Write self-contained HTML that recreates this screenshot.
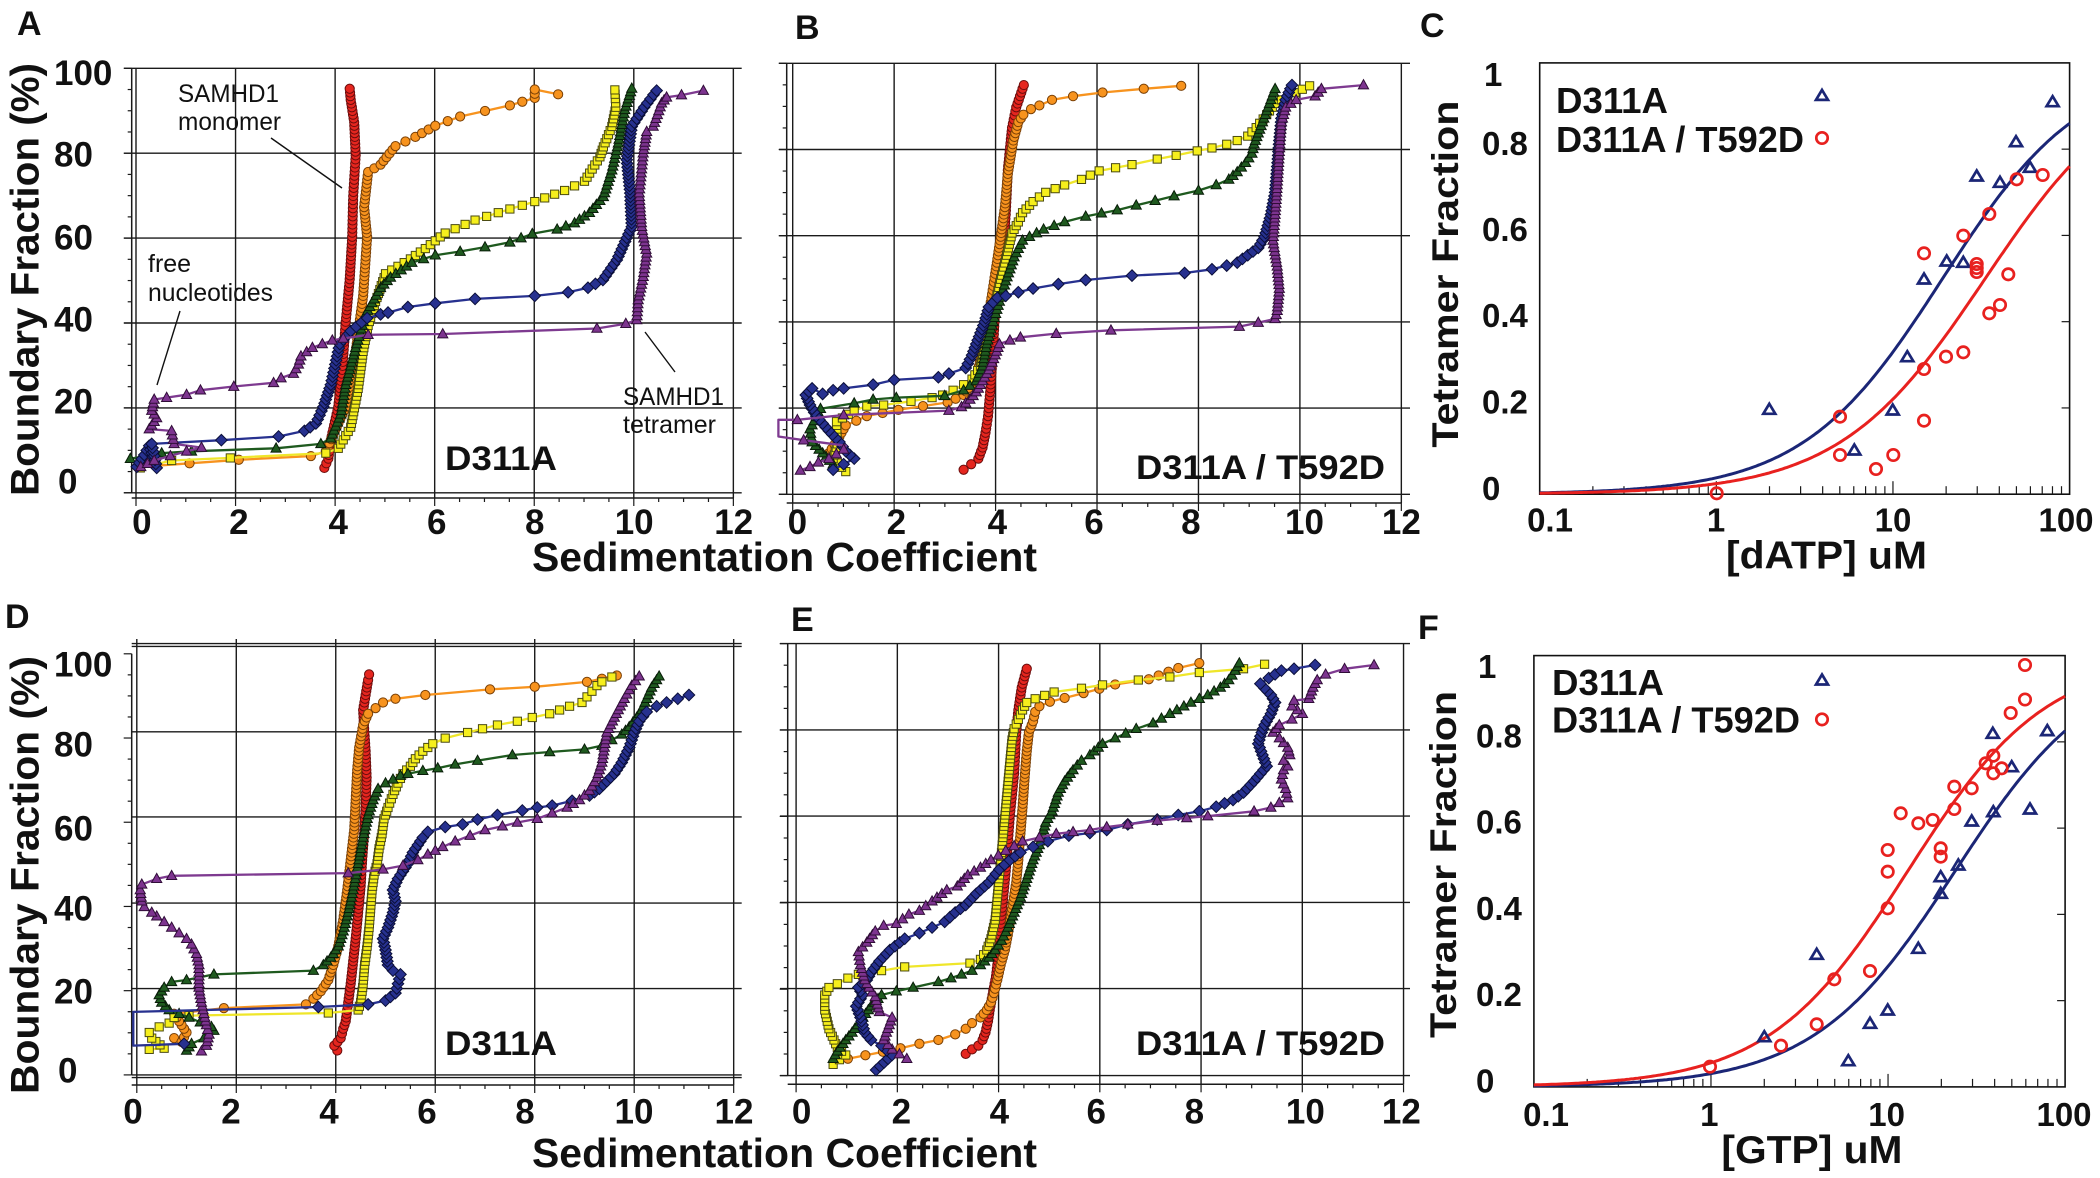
<!DOCTYPE html>
<html><head><meta charset="utf-8">
<style>
html,body{margin:0;padding:0;background:#fff;}
svg{display:block;}
text{font-family:"Liberation Sans",Arial,sans-serif;fill:#111;}
.b{font-weight:bold;}
</style></head><body>
<svg id="s" xmlns="http://www.w3.org/2000/svg" width="2100" height="1178" viewBox="0 0 2100 1178">
<rect width="2100" height="1178" fill="#fff"/>
<g id="g"></g>
<g id="d"></g>
<g id="t">
<!-- panel letters -->
<text class="b" x="17" y="35" font-size="34">A</text>
<text class="b" x="795" y="39" font-size="34">B</text>
<text class="b" x="1420" y="37" font-size="34">C</text>
<text class="b" x="5" y="628" font-size="34">D</text>
<text class="b" x="791" y="631" font-size="34">E</text>
<text class="b" x="1418" y="639" font-size="34">F</text>

<!-- y titles -->
<text class="b" font-size="40" transform="translate(38.5,496) rotate(-90)" x="0" y="0" textLength="433" lengthAdjust="spacingAndGlyphs">Boundary Fraction (%)</text>
<text class="b" font-size="40" transform="translate(38.5,1094) rotate(-90)" x="0" y="0" textLength="438" lengthAdjust="spacingAndGlyphs">Boundary Fraction (%)</text>
<text class="b" font-size="37" transform="translate(1458,447.6) rotate(-90)" x="0" y="0" textLength="347" lengthAdjust="spacingAndGlyphs">Tetramer Fraction</text>
<text class="b" font-size="37" transform="translate(1455.8,1038) rotate(-90)" x="0" y="0" textLength="347" lengthAdjust="spacingAndGlyphs">Tetramer Fraction</text>

<!-- x titles -->
<text class="b" font-size="41" x="532" y="571" textLength="505" lengthAdjust="spacingAndGlyphs">Sedimentation Coefficient</text>
<text class="b" font-size="41" x="532" y="1167" textLength="505" lengthAdjust="spacingAndGlyphs">Sedimentation Coefficient</text>
<text class="b" font-size="39" x="1726" y="568.5" textLength="201" lengthAdjust="spacingAndGlyphs">[dATP] uM</text>
<text class="b" font-size="39" x="1721.4" y="1163" textLength="181" lengthAdjust="spacingAndGlyphs">[GTP] uM</text>

<!-- A/D y tick labels -->
<g font-size="35" font-weight="bold">
<text x="54" y="85">100</text><text x="54" y="166.5">80</text><text x="54" y="249.5">60</text>
<text x="54" y="331.5">40</text><text x="54" y="413.5">20</text><text x="58" y="493.5">0</text>
<text x="54" y="676.5">100</text><text x="54" y="756.5">80</text><text x="54" y="840.5">60</text>
<text x="54" y="920.5">40</text><text x="54" y="1003.5">20</text><text x="58" y="1082.5">0</text>
</g>
<g font-size="35" font-weight="bold" text-anchor="middle">
<text x="141.8" y="534">0</text><text x="238.8" y="534">2</text><text x="338.2" y="534">4</text><text x="436.7" y="534">6</text><text x="534.7" y="534">8</text><text x="634.2" y="534">10</text><text x="733.7" y="534">12</text>
<text x="797.4" y="534">0</text><text x="896.3" y="534">2</text><text x="997.3" y="534">4</text><text x="1094" y="534">6</text><text x="1190.9" y="534">8</text><text x="1304.5" y="534">10</text><text x="1401.4" y="534">12</text>
<text x="133" y="1123.5">0</text><text x="231" y="1123.5">2</text><text x="329" y="1123.5">4</text><text x="427" y="1123.5">6</text><text x="525" y="1123.5">8</text><text x="634" y="1123.5">10</text><text x="734" y="1123.5">12</text>
<text x="801.6" y="1123.5">0</text><text x="901.3" y="1123.5">2</text><text x="999.4" y="1123.5">4</text><text x="1096.2" y="1123.5">6</text><text x="1194.3" y="1123.5">8</text><text x="1305.4" y="1123.5">10</text><text x="1401.4" y="1123.5">12</text>
</g>
<!-- C/F tick labels -->
<g font-size="33" font-weight="bold">
<text x="1484" y="86">1</text><text x="1482" y="155">0.8</text><text x="1482" y="241">0.6</text><text x="1482" y="327">0.4</text><text x="1482" y="413.5">0.2</text><text x="1482" y="500">0</text>
<text x="1478" y="678">1</text><text x="1476" y="747.5">0.8</text><text x="1476" y="833.6">0.6</text><text x="1476" y="920">0.4</text><text x="1476" y="1006">0.2</text><text x="1476" y="1092.5">0</text>
</g>
<g font-size="33" font-weight="bold" text-anchor="middle">
<text x="1550" y="531.7">0.1</text><text x="1716" y="531.7">1</text><text x="1893" y="531.7">10</text><text x="2066" y="531.7">100</text>
<text x="1546" y="1126">0.1</text><text x="1709.3" y="1126">1</text><text x="1886.6" y="1126">10</text><text x="2064" y="1126">100</text>
</g>
<!-- legends -->
<g font-size="36" font-weight="bold">
<text x="1556" y="113" textLength="112" lengthAdjust="spacingAndGlyphs">D311A</text>
<text x="1556" y="152" textLength="248" lengthAdjust="spacingAndGlyphs">D311A / T592D</text>
<text x="1552" y="695" textLength="112" lengthAdjust="spacingAndGlyphs">D311A</text>
<text x="1552" y="732.5" textLength="248" lengthAdjust="spacingAndGlyphs">D311A / T592D</text>
</g>
<!-- panel tags -->
<g font-size="34" font-weight="bold">
<text x="445" y="470" textLength="112" lengthAdjust="spacingAndGlyphs">D311A</text>
<text x="445" y="1055" textLength="112" lengthAdjust="spacingAndGlyphs">D311A</text>
<text x="1136" y="479" textLength="249" lengthAdjust="spacingAndGlyphs">D311A / T592D</text>
<text x="1136" y="1055" textLength="249" lengthAdjust="spacingAndGlyphs">D311A / T592D</text>
</g>
<!-- annotations -->
<g font-size="25">
<text x="178" y="102" textLength="101" lengthAdjust="spacingAndGlyphs">SAMHD1</text>
<text x="178" y="130" textLength="103" lengthAdjust="spacingAndGlyphs">monomer</text>
<text x="148" y="272">free</text>
<text x="148" y="301" textLength="125" lengthAdjust="spacingAndGlyphs">nucleotides</text>
<text x="623" y="405" textLength="101" lengthAdjust="spacingAndGlyphs">SAMHD1</text>
<text x="623" y="433" textLength="93" lengthAdjust="spacingAndGlyphs">tetramer</text>
</g>
<g stroke="#111" stroke-width="1.4">
<line x1="271" y1="138" x2="342" y2="188"/>
<line x1="180" y1="311" x2="157" y2="385"/>
<line x1="645" y1="332" x2="675" y2="372"/>
</g>
</g>
</svg>
<script>
(function(){
var NS="http://www.w3.org/2000/svg";
var G=document.getElementById('g'), DG=document.getElementById('d');
function mk(tag,a,p){var e=document.createElementNS(NS,tag);for(var k in a)e.setAttribute(k,a[k]);p.appendChild(e);return e;}
function L(x1,y1,x2,y2,w){mk('line',{x1:x1,y1:y1,x2:x2,y2:y2,stroke:'#1a1a1a','stroke-width':w||1.3},G);}

function sedAxes(o){
  L(o.ax,o.tTop,o.ax,o.tBot,1.5);
  for(var v=0;v<=100;v+=5){var y=o.ty0-v*o.tuy;var len=(v%20==0)?8:4;L(o.ax-len,y,o.ax,y,1.2);}
  o.h.forEach(function(y){L(o.hx1,y,o.hx2,y,1.4);});
  for(var v=0;v<=12;v+=2){var x=o.x0+v*o.ux;L(x,o.vTop,x,o.vBot,1.4);}
  L(o.ax,o.xay,o.x0+12*o.ux,o.xay,1.5);
  for(var v=0;v<=12.001;v+=0.5){var x=o.x0+v*o.ux;var len=(Math.abs(v%2)<0.01)?8:4;L(x,o.xay,x,o.xay+len,1.2);}
}
sedAxes({ax:131.7,tTop:68.3,tBot:492.8,ty0:492.8,tuy:4.245,h:[68.3,153.2,238.1,323.0,407.9,492.8],hx1:124,hx2:741.7,x0:136,ux:49.78,vTop:68.3,vBot:498,xay:498});
sedAxes({ax:786.7,tTop:63.3,tBot:494.3,ty0:494.3,tuy:4.31,h:[63.3,149.5,235.7,321.9,408.1,494.3],hx1:779,hx2:1410,x0:792.7,ux:50.72,vTop:63.3,vBot:503,xay:503});
sedAxes({ax:131.7,tTop:653.8,tBot:1075,ty0:1074.9,tuy:4.211,h:[643.6,646.4,731.8,816.9,903.1,988.6,1074.9,1077.6],hx1:131.7,hx2:741.7,x0:136.8,ux:49.74,vTop:639,vBot:1085,xay:1085});
sedAxes({ax:787.7,tTop:643.6,tBot:1075.6,ty0:1075.6,tuy:4.32,h:[643.6,729.9,816.1,902.4,988.6,1075.6],hx1:780,hx2:1410,x0:796.1,ux:50.62,vTop:643.6,vBot:1084.3,xay:1084.3});

function logAxes(o){
  mk('rect',{x:o.l,y:o.t,width:o.r-o.l,height:o.b-o.t,fill:'none',stroke:'#111','stroke-width':1.6},G);
  [0.1,1,10].forEach(function(d){for(var m=1;m<=9;m++){if(m==1&&d==0.1)continue;var x=o.l+(Math.log(m*d)/Math.LN10+1)*o.dec;var len=(m==1)?13:8;L(x,o.b,x,o.b-len,1.2);}});
  [0.2,0.4,0.6,0.8].forEach(function(f){var y=o.b-f*431.3;L(o.r-8,y,o.r,y,1.2);});
}
var PC={l:1539.7,r:2069.6,t:62.9,b:494.2,dec:176.63};
var PF={l:1533.9,r:2065.1,t:655.6,b:1086.9,dec:177.07};
logAxes(PC);logAxes(PF);

function hill(o,K,n,col){
  var pts=[];
  for(var i=0;i<=240;i++){var lx=-1+3*i/240;var x=Math.pow(10,lx);var f=Math.pow(x,n)/(Math.pow(K,n)+Math.pow(x,n));pts.push((o.l+(lx+1)*o.dec).toFixed(1)+','+(o.b-f*431.3).toFixed(1));}
  mk('polyline',{points:pts.join(' '),fill:'none',stroke:col,'stroke-width':3},DG);
}
var NAVY='#1b2676', RED='#e8211f';
hill(PC,19.1,1.095,NAVY);hill(PC,33.3,1.05,RED);
hill(PF,23.9,1.086,NAVY);hill(PF,12.9,1.106,RED);

function otri(x,y){mk('polygon',{points:(x)+','+(y-5.5)+' '+(x+6)+','+(y+4.5)+' '+(x-6)+','+(y+4.5),fill:'none',stroke:NAVY,'stroke-width':2.7,'stroke-linejoin':'miter'},DG);}
function ocirc(x,y){mk('circle',{cx:x,cy:y,r:5.7,fill:'none',stroke:RED,'stroke-width':2.7},DG);}
otri(1822,95.4);ocirc(1822,138);otri(1822,680);ocirc(1822,719.4);
[[2052.6,101.7],[2016,141.7],[2030,167.3],[1976.7,176],[2000,182.3],[1946.7,261],[1963.3,262.3],[1924,279],[1907.3,356.7],[1769.3,409.3],[1892.7,410],[1854.3,450]].forEach(function(p){otri(p[0],p[1]);});
[[2042.7,175],[2016.7,179.3],[1989.3,214],[1963.3,235.7],[1924,253.3],[1976.7,264],[1976.7,268],[1976.7,272],[2008.3,274.3],[2000,305],[1989.3,313.3],[1946,356.7],[1963.3,352.3],[1924,369],[1840,416.7],[1924,420.7],[1840,455],[1893.3,455],[1876,469],[1716.7,493.3]].forEach(function(p){ocirc(p[0],p[1]);});
[[2047.3,730.6],[1992.8,733.3],[2011.7,766.7],[2030,809],[1993.3,811.7],[1971.7,821],[1958.3,865],[1940.7,876.7],[1940.7,893.3],[1918.3,948.3],[1816.7,954.3],[1887.7,1010],[1870,1023.3],[1764.3,1036.7],[1848.3,1060.7]].forEach(function(p){otri(p[0],p[1]);});
[[2025,665],[2025,699.5],[2010.7,713],[1993.3,755.7],[1985.7,763.3],[2001.7,768.3],[1993.3,773.3],[1954.3,786.7],[1971.7,788.3],[1954.3,809],[1900.7,813.3],[1932.7,820],[1918.3,823.3],[1940.7,848.3],[1940.7,856.7],[1887.7,850],[1887.7,871.7],[1887.7,908.3],[1870,971],[1834.3,979.3],[1816.7,1024.3],[1781,1045.7],[1710,1066.7]].forEach(function(p){ocirc(p[0],p[1]);});

/* sedimentation series */
var PA={ox:0,oy:0,fx:780/1568,fy:580/1568};
var PB={ox:770,oy:0,fx:660/1568,fy:580/1568};
var PD={ox:0,oy:590,fx:780/1568,fy:588/1568};
var PE={ox:770,oy:590,fx:660/1568,fy:588/1568};
var STY={
 red:{k:'c',f:'#e5261f',e:'#6a0c0c',l:'#e0281f'},
 orange:{k:'c',f:'#f7931e',e:'#7a4006',l:'#f7931e'},
 yellow:{k:'s',f:'#f6ef1c',e:'#4a4a10',l:'#efe62a'},
 green:{k:'t',f:'#1f5a1f',e:'#081c08',l:'#1f5a1f'},
 navy:{k:'d',f:'#27318f',e:'#0a0e38',l:'#27318f'},
 purple:{k:'t',f:'#7d348f',e:'#300d38',l:'#7e3a90'}
};
var STEP=10.5;
function marker(st,x,y){
  var a={fill:st.f,stroke:st.e,'stroke-width':1};
  if(st.k=='c'){a.cx=x;a.cy=y;a.r=4.6;mk('circle',a,DG);}
  else if(st.k=='s'){a.x=x-4.1;a.y=y-4.1;a.width=8.2;a.height=8.2;mk('rect',a,DG);}
  else if(st.k=='d'){a.points=x+','+(y-5.8)+' '+(x+5.8)+','+y+' '+x+','+(y+5.8)+' '+(x-5.8)+','+y;mk('polygon',a,DG);}
  else {a.points=x+','+(y-5.4)+' '+(x+5.1)+','+(y+3.8)+' '+(x-5.1)+','+(y+3.8);mk('polygon',a,DG);}
}
function series(P,name,pts){
  var st=STY[name];
  var Q=pts.map(function(p){return {x:P.ox+p[0]*P.fx,y:P.oy+p[1]*P.fy,m:!(p.length>2&&p[2]===0)};});
  mk('polyline',{points:Q.map(function(q){return q.x.toFixed(1)+','+q.y.toFixed(1);}).join(' '),fill:'none',stroke:st.l,'stroke-width':2.3,'stroke-linejoin':'round'},DG);
  var M=[];
  for(var i=0;i<Q.length;i++){
    if(Q[i].m)M.push([Q[i].x,Q[i].y]);
    if(i<Q.length-1&&Q[i].m&&Q[i+1].m){
      var dy=Math.abs(pts[i+1][1]-pts[i][1]);var n=Math.round(dy/STEP);
      for(var k=1;k<n;k++){var t=k/n;M.push([Q[i].x+(Q[i+1].x-Q[i].x)*t,Q[i].y+(Q[i+1].y-Q[i].y)*t]);}
    }
  }
  M.forEach(function(m){marker(st,m[0],m[1]);});
}
var DATA=[
[PA,{
red:[[652,1265],[660,1240],[665,1190],[680,1100],[688,1000],[695,870],[703,755],[708,640],[710,530],[715,420],[712,330],[705,270],[703,240]],
orange:[[282,1262],[480,1243],[625,1233],[655,1220],[695,1100],[715,950],[730,800],[738,640],[732,560],[740,465],[765,445],[795,395],[835,370],[875,340],[925,315],[975,300],[1025,285],[1075,265],[1075,242],[1122,255]],
yellow:[[282,1265],[345,1245],[463,1238],[655,1225],[680,1212],[705,1155],[720,1050],[730,950],[740,880],[755,815],[775,740],[800,720],[825,700],[855,672],[895,630],[955,595],[1025,565],[1075,545],[1135,515],[1175,490],[1206,424],[1213,397],[1230,342],[1238,290],[1236,243]],
green:[[262,1240],[325,1225],[385,1220],[555,1212],[645,1200],[665,1185],[685,1120],[695,1040],[715,940],[735,850],[765,778],[785,750],[828,710],[875,690],[925,680],[975,668],[1025,655],[1070,632],[1120,620],[1155,603],[1185,575],[1213,532],[1230,460],[1243,387],[1256,297],[1270,239]],
navy:[[275,1262],[290,1230],[300,1205],[315,1265],[305,1200],[445,1190],[560,1180],[612,1165],[635,1145],[650,1100],[665,1040],[683,930],[705,895],[738,860],[765,850],[780,845],[820,830],[875,820],[955,808],[1075,800],[1142,790],[1182,778],[1212,757],[1240,703],[1270,613],[1267,522],[1260,432],[1270,342],[1295,290],[1320,245]],
purple:[[283,1262],[310,1245],[375,1220],[405,1210],[350,1200],[345,1165],[300,1160],[315,1130],[305,1110],[310,1080],[335,1075],[375,1067],[403,1055],[470,1045],[550,1035],[565,1022],[590,1010],[600,985],[605,963],[628,940],[668,920],[690,915],[740,905],[890,903],[1200,888],[1258,875],[1280,865],[1283,811],[1293,748],[1300,685],[1290,613],[1285,522],[1293,414],[1300,356],[1313,342],[1330,279],[1340,263],[1370,257],[1414,245]]
}],
[PB,{
red:[[460,1270],[478,1255],[495,1240],[505,1210],[512,1170],[518,1125],[523,1060],[530,945],[535,830],[542,800],[553,690],[560,580],[565,460],[575,345],[585,290],[603,230]],
orange:[[155,1255],[140,1225],[160,1190],[180,1150],[230,1125],[305,1108],[422,1088],[460,1068],[490,1020],[505,950],[520,850],[535,740],[548,640],[558,560],[565,470],[578,380],[590,330],[602,310],[620,295],[640,285],[670,270],[720,260],[790,250],[888,240],[977,232]],
yellow:[[180,1275],[150,1240],[160,1200],[158,1140],[200,1110],[230,1098],[270,1095],[335,1085],[385,1075],[410,1068],[435,1055],[460,1040],[480,1025],[500,990],[512,930],[525,870],[537,810],[548,755],[560,700],[575,630],[590,600],[600,575],[625,545],[655,520],[700,500],[740,485],[782,462],[860,445],[920,430],[965,420],[1015,408],[1050,400],[1085,390],[1110,380],[1135,368],[1155,345],[1180,310],[1200,280],[1230,260],[1282,232]],
green:[[150,1255],[125,1225],[100,1195],[95,1160],[120,1105],[200,1090],[245,1080],[300,1075],[415,1070],[460,1055],[490,1030],[505,990],[515,930],[530,870],[545,815],[560,760],[580,695],[600,650],[650,620],[700,600],[750,585],[825,568],[870,555],[960,530],[1018,515],[1060,500],[1090,485],[1110,465],[1130,440],[1145,415],[1150,390],[1160,360],[1170,330],[1180,300],[1190,270],[1200,240]],
navy:[[150,1270],[175,1255],[200,1240],[180,1220],[165,1195],[140,1165],[110,1125],[95,1095],[85,1068],[100,1050],[125,1065],[150,1055],[175,1050],[245,1040],[295,1027],[400,1020],[425,1010],[465,995],[480,960],[490,930],[500,900],[510,870],[520,830],[540,805],[560,800],[590,790],[625,780],[685,768],[750,757],[860,745],[985,738],[1050,728],[1085,718],[1110,710],[1135,690],[1160,670],[1175,640],[1190,580],[1200,520],[1205,450],[1210,380],[1215,320],[1225,270],[1240,230]],
purple:[[72,1272],[95,1262],[115,1250],[140,1240],[175,1215],[180,1205,0],[80,1190],[20,1180,0],[20,1135,0],[65,1135],[175,1122],[425,1110],[455,1100],[475,1080],[490,1060],[505,1030],[520,1000],[535,960],[545,930],[570,920],[595,912],[680,902],[810,893],[1115,883],[1160,872],[1200,862],[1205,840],[1210,780],[1205,720],[1195,650],[1200,580],[1205,500],[1210,410],[1215,330],[1225,290],[1250,270],[1295,260],[1310,240],[1410,230]]
}],
[PD,{
red:[[678,1228],[672,1215],[685,1195],[690,1170],[695,1150],[700,1100],[705,1050],[710,990],[715,930],[720,860],[725,790],[728,720],[732,650],[735,580],[737,500],[735,430],[732,370],[730,320],[735,280],[740,240],[742,225]],
orange:[[350,1195],[365,1205],[375,1180],[360,1150],[350,1130],[450,1115],[615,1105],[630,1090],[645,1070],[660,1040],[670,1000],[680,950],[690,880],[698,800],[705,720],[712,640],[715,560],[718,480],[722,420],[730,360],[740,330],[755,315],[770,300],[795,290],[855,280],[985,265],[1075,258],[1180,245],[1240,228]],
yellow:[[300,1225],[330,1222],[305,1195],[300,1180],[320,1165],[340,1155],[350,1140],[380,1135],[660,1128],[720,1120],[725,1100],[730,1050],[733,1000],[738,950],[742,900],[745,850],[748,800],[752,760],[758,730],[762,690],[768,650],[772,610],[780,580],[790,545],[800,515],[810,490],[825,470],[835,450],[850,430],[870,410],[895,395],[940,380],[970,370],[1000,360],[1040,350],[1070,340],[1105,330],[1125,320],[1145,310],[1170,300],[1180,285],[1190,270],[1200,255],[1210,245],[1230,232]],
green:[[375,1228],[385,1210],[410,1195],[430,1175],[425,1165],[380,1140],[340,1120],[325,1100],[320,1080],[330,1060],[345,1045],[375,1040],[430,1025],[630,1015],[650,1000],[665,980],[680,950],[690,910],[700,860],[710,800],[720,730],[730,660],[740,600],[750,560],[760,530],[775,515],[790,505],[805,495],[820,490],[850,482],[880,475],[915,465],[960,455],[1030,440],[1105,432],[1175,425],[1210,415],[1230,400],[1250,385],[1265,365],[1280,340],[1290,320],[1300,290],[1310,260],[1325,230]],
navy:[[370,1210],[268,1215,0],[268,1125,0],[640,1112],[740,1105],[775,1095],[795,1075],[800,1050],[805,1025],[790,1015],[780,1000],[775,960],[770,930],[780,900],[790,860],[795,830],[790,800],[800,770],[810,750],[820,730],[830,700],[840,680],[850,660],[860,645],[895,632],[930,625],[960,612],[1000,600],[1050,588],[1080,580],[1110,575],[1150,562],[1185,548],[1205,530],[1220,510],[1235,490],[1250,460],[1265,420],[1275,380],[1285,350],[1300,325],[1320,310],[1340,300],[1385,280]],
purple:[[405,1230],[415,1215],[420,1185],[415,1160],[410,1130],[405,1100],[400,1060],[400,1000],[395,970],[385,945],[375,930],[360,915],[345,900],[330,885],[315,870],[305,860],[290,845],[285,830],[282,800],[285,785],[315,770],[345,762],[700,755],[770,745],[810,735],[840,720],[860,705],[890,685],[915,670],[945,655],[975,640],[1010,630],[1040,620],[1080,610],[1110,595],[1140,580],[1165,560],[1185,535],[1200,500],[1210,460],[1215,420],[1220,380],[1235,340],[1255,290],[1270,255],[1285,230]]
}],
[PE,{
red:[[465,1237],[480,1225],[495,1215],[505,1200],[512,1180],[518,1150],[522,1120],[527,1090],[532,1060],[537,1030],[540,1000],[543,970],[548,890],[560,750],[570,600],[580,490],[585,380],[590,320],[598,260],[610,210]],
orange:[[185,1250],[310,1222],[355,1210],[400,1200],[440,1185],[465,1170],[480,1155],[500,1140],[515,1120],[525,1100],[532,1075],[540,1040],[548,1000],[558,960],[565,920],[572,870],[578,830],[585,780],[590,720],[595,650],[600,580],[605,500],[610,430],[615,380],[625,350],[630,325],[640,310],[665,298],[700,288],[745,275],[820,252],[900,238],[970,208],[1020,195]],
yellow:[[150,1265],[180,1240],[160,1220],[140,1170],[130,1120],[130,1080],[140,1060],[160,1050],[185,1035],[210,1025],[320,1005],[475,995],[500,985],[515,960],[525,930],[535,880],[540,820],[545,760],[550,700],[555,640],[560,580],[565,520],[570,460],[575,400],[580,370],[590,345],[600,320],[610,300],[630,290],[675,272],[740,262],[790,253],[875,240],[950,232],[1020,220],[1125,210],[1175,198]],
green:[[150,1250],[160,1230],[180,1200],[195,1180],[240,1110],[265,1080],[300,1070],[340,1060],[400,1045],[430,1035],[455,1025],[480,1015],[500,1000],[520,980],[535,960],[550,935],[565,900],[580,860],[595,820],[610,770],[625,720],[640,680],[655,620],[670,590],[685,540],[700,510],[720,480],[740,455],[760,440],[790,410],[820,395],[870,370],[910,355],[950,330],[1000,300],[1040,280],[1070,260],[1090,240],[1105,215],[1115,195]],
navy:[[252,1280],[290,1240],[265,1215],[240,1200],[225,1180],[215,1140],[205,1110],[220,1080],[210,1060],[230,1040],[240,1020],[260,990],[285,960],[320,930],[355,915],[385,900],[415,885],[440,860],[465,840],[490,810],[520,780],[545,745],[570,720],[595,700],[625,685],[660,670],[710,655],[760,648],[800,640],[850,625],[920,612],[970,600],[1020,590],[1060,578],[1100,560],[1125,540],[1150,510],[1165,490],[1180,470],[1170,440],[1160,410],[1165,390],[1175,360],[1190,330],[1200,300],[1190,280],[1175,262],[1165,250],[1185,235],[1215,215],[1245,210],[1295,200]],
purple:[[325,1250],[290,1225],[270,1200],[290,1140],[260,1125],[250,1085],[235,1060],[225,1040],[215,1000],[210,965],[230,940],[250,910],[270,895],[300,890],[330,865],[355,855],[385,830],[420,800],[445,790],[470,760],[500,740],[525,720],[560,695],[600,670],[640,660],[680,650],[720,645],[760,640],[800,632],[850,625],[920,615],[990,608],[1040,603],[1150,590],[1190,580],[1230,555],[1225,530],[1215,505],[1220,480],[1230,470],[1220,455],[1235,440],[1230,420],[1210,395],[1195,380],[1210,360],[1240,345],[1265,330],[1240,310],[1245,295],[1280,290],[1290,260],[1300,240],[1320,225],[1365,210],[1435,200]]
}]
];
var ORDER=['red','orange','yellow','green','navy','purple'];
DATA.forEach(function(pd){ORDER.forEach(function(nm){series(pd[0],nm,pd[1][nm]);});});
})();
</script>
</body></html>
